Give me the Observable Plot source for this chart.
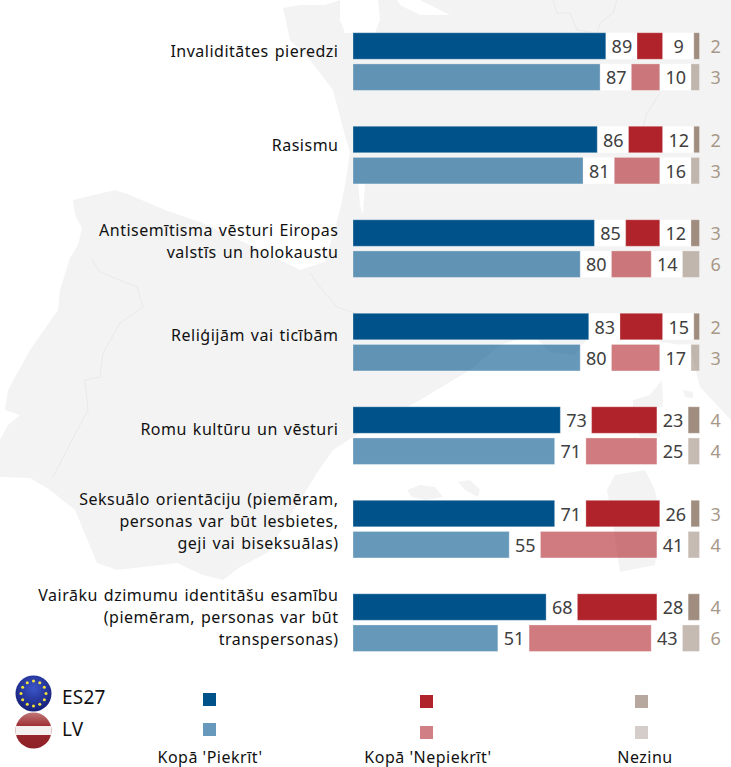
<!DOCTYPE html>
<html><head><meta charset="utf-8">
<style>
html,body{margin:0;padding:0;background:#fff;}
#page{position:relative;width:731px;height:767px;overflow:hidden;font-family:"Noto Sans",sans-serif;}
#map{position:absolute;left:0;top:0;}
#chart{position:absolute;left:0;top:0;}
#chart svg{background:transparent;display:block;}
#chart .lab text, #chart text.lab{letter-spacing:.5px;word-spacing:1.3px;}
#legend{position:absolute;left:0;top:665px;width:731px;height:102px;color:#111;font-size:16px;line-height:18px;letter-spacing:.5px;}
#legend span{position:absolute;white-space:nowrap;}
#legend i{position:absolute;width:13px;height:13px;display:block;}
#legend svg{position:absolute;}
.c{transform:translateX(-50%);}
</style>
</head><body>
<div id="page">
<svg id="map" width="731" height="767" viewBox="0 0 731 767">
<g fill="#f3f3f3">
<path d="M283,8L300,5L325,5L340,0L731,0L731,420L700,387L690,347L640,338L590,335L575,355L550,352L533,335L500,345L470,370L420,400L353,437L333,450L317,473L267,553L240,567L223,580L203,575L177,563L117,570L97,563L75,510L50,490L30,478L0,477L0,440L8,425L20,415L5,410L8,390L30,350L58,310L60,290L70,258L78,245L82,228L75,215L73,200L115,190L130,195L165,210L200,222L250,245L300,270L325,262L340,210L345,185L350,153L340,117L333,90L310,60L290,40Z"/>
<path d="M407,490L420,485L435,487L443,497L425,500L412,497Z"/>
<path d="M458,482L470,480L480,490L478,497L465,490Z"/>
<path d="M615,475L645,470L655,490L660,520L655,565L620,572L613,525L607,490Z"/>
<path d="M633,400L650,395L662,380L663,400L660,437L640,437L633,420Z"/>
<path d="M683,390L693,392L693,398L685,397Z"/>
</g>
<g fill="#fff">
<path d="M340,0L378,0L380,20L375,33L345,33L340,20Z"/>
<path d="M397,0L420,0L430,5L450,15L420,15L400,5Z"/>
<path d="M358,183L365,183L363,215L360,205Z"/>
</g>
<g fill="none" stroke="#e9e9e9" stroke-width="1">
<path d="M92,260L100,272L137,287L143,307L120,323L103,353L100,377L85,380L88,410L72,440L53,477"/>
<path d="M310,273L320,287L337,307L367,317"/>
<path d="M553,0L557,13L570,13L577,30L597,33L600,23L613,13L617,0"/>
<path d="M660,93L647,113L643,127"/>
</g>
</svg>
<div id="chart"></div>
<div id="legend"></div>
</div>
<script src="https://cdn.jsdelivr.net/npm/d3@7"></script>
<script src="https://cdn.jsdelivr.net/npm/@observablehq/plot@0.6"></script>
<script>
const categories = [
  "Invaliditātes pieredzi",
  "Rasismu",
  "Antisemītisma vēsturi Eiropas\nvalstīs un holokaustu",
  "Reliģijām vai ticībām",
  "Romu kultūru un vēsturi",
  "Seksuālo orientāciju (piemēram,\npersonas var būt lesbietes,\ngeji vai biseksuālas)",
  "Vairāku dzimumu identitāšu esamību\n(piemēram, personas var būt\ntranspersonas)"
];
const agreeES27    = [89, 86, 85, 83, 73, 71, 68];
const disagreeES27 = [ 9, 12, 12, 15, 23, 26, 28];
const dkES27       = [ 2,  2,  3,  2,  4,  3,  4];
const agreeLV      = [87, 81, 80, 80, 71, 55, 51];
const disagreeLV   = [10, 16, 14, 17, 25, 41, 43];
const dkLV         = [ 3,  3,  6,  3,  4,  4,  6];

const GAP = 11;
const labelNudge = [3, 4, 6.5, 6.5, 7.5, 6, 8.5];

const rows = [];
const domain = [];
categories.forEach((c, i) => {
  rows.push({key: i + "E", cat: c, geo: "ES27", a: agreeES27[i], d: disagreeES27[i], k: dkES27[i]});
  rows.push({key: i + "L", cat: c, geo: "LV", a: agreeLV[i], d: disagreeLV[i], k: dkLV[i]});
  domain.push(i + "E", i + "L");
  if (i < categories.length - 1) domain.push(i + "_");
});
const op = r => r.geo === "LV" ? 0.6 : 1;
const seg = (x1, x2, fill) => Plot.barX(rows, {
  x1, x2, y: "key", fill, stroke: "#fff", strokeOpacity: 0.3, strokeWidth: 1,
  fillOpacity: op
});
const FONT = '"Noto Sans", sans-serif';
const num = (x, text, fill) => Plot.text(rows, {
  x, y: "key", text, fill, fontSize: 18, fontFamily: FONT, lineAnchor: "middle", dy: 1
});

const chart = Plot.plot({
  width: 731, height: 665,
  marginTop: 0, marginBottom: 0, marginLeft: 0, marginRight: 0,
  style: {background: "transparent", overflow: "visible"},
  x: {domain: [0, 122], range: [353, 699.5], axis: null},
  y: {type: "band", domain, range: [30.4, 653.8], round: false, paddingInner: 0.15, paddingOuter: 0.075, axis: null},
  marks: [
    Plot.barX(rows, {x1: r => r.a, x2: r => r.a + GAP, y: "key", fill: "#fff"}),
    Plot.barX(rows, {x1: r => r.a + GAP + r.d, x2: r => r.a + 2 * GAP + r.d, y: "key", fill: "#fff"}),
    seg(r => 0, r => r.a, "#00538a"),
    seg(r => r.a + GAP, r => r.a + GAP + r.d, "#b0232a"),
    seg(r => r.a + 2 * GAP + r.d, r => r.a + 2 * GAP + r.d + r.k, "#a08d7f"),
    num(r => r.a + GAP / 2, r => String(r.a), "#404040"),
    num(r => r.a + GAP * 1.5 + r.d, r => String(r.d), "#404040"),
    num(r => 127.5, r => String(r.k), "#a89888"),
    ...categories.map((c, i) => Plot.text([c], {
      x: () => 0, y: () => i + "E", text: d => d, dx: -15, dy: labelNudge[i],
      textAnchor: "end", lineAnchor: "middle", lineHeight: 1.375,
      fontSize: 16, fontFamily: FONT, fill: "#111", className: "lab"
    }))
  ]
});
document.getElementById("chart").appendChild(chart);

// legend
const legendGeo = ["ES27", "LV"];
const legendSeries = ["Kopā 'Piekrīt'", "Kopā 'Nepiekrīt'", "Nezinu"];
const swatches = [["#00538a", "#6699bb"], ["#b0232a", "#d08084"], ["#b7a89f", "#d4cdc9"]];
const leg = document.getElementById("legend");
const base = 665;
const sx = [203, 420, 635], sy = [[693, 723], [695, 726], [695, 726]], lx = [210, 428, 645];
legendSeries.forEach((s, i) => {
  swatches[i].forEach((col, j) => {
    const e = document.createElement("i");
    e.style.cssText = `left:${sx[i]}px;top:${sy[i][j] - base}px;background:${col}`;
    leg.appendChild(e);
  });
  const t = document.createElement("span");
  t.className = "c";
  t.textContent = s;
  t.style.cssText = `left:${lx[i]}px;top:${748 - base}px`;
  leg.appendChild(t);
});
legendGeo.forEach((g, j) => {
  const t = document.createElement("span");
  t.textContent = g;
  t.style.cssText = `left:62px;top:${[686, 718][j] - base}px;font-size:19px;letter-spacing:.2px;line-height:22px`;
  leg.appendChild(t);
});
const stars = d3.range(12).map(i => {
  const a = i * Math.PI / 6;
  return `<circle cx="${18.5 + 12.5 * Math.sin(a)}" cy="${18.5 - 12.5 * Math.cos(a)}" r="1.5" fill="#f2e23a"/>`;
}).join("");
leg.insertAdjacentHTML("beforeend", `
<svg style="left:15px;top:10px" width="37" height="37"><defs>
<radialGradient id="eu" cx="50%" cy="35%" r="65%"><stop offset="0" stop-color="#3b55c8"/><stop offset="1" stop-color="#161f78"/></radialGradient>
<clipPath id="cl"><circle cx="18.5" cy="18.5" r="18"/></clipPath>
<linearGradient id="lvg" x1="0" y1="0" x2="0" y2="1"><stop offset="0" stop-color="#c07a7a"/><stop offset=".4" stop-color="#9c2a30"/><stop offset="1" stop-color="#8c1f26"/></linearGradient>
</defs><circle cx="18.5" cy="18.5" r="18" fill="url(#eu)"/>${stars}</svg>
<svg style="left:15px;top:47px" width="37" height="37"><g clip-path="url(#cl)"><rect width="37" height="37" fill="url(#lvg)"/><rect y="14" width="37" height="9" fill="#f4f0f0"/></g></svg>`);
</script>
</body></html>
